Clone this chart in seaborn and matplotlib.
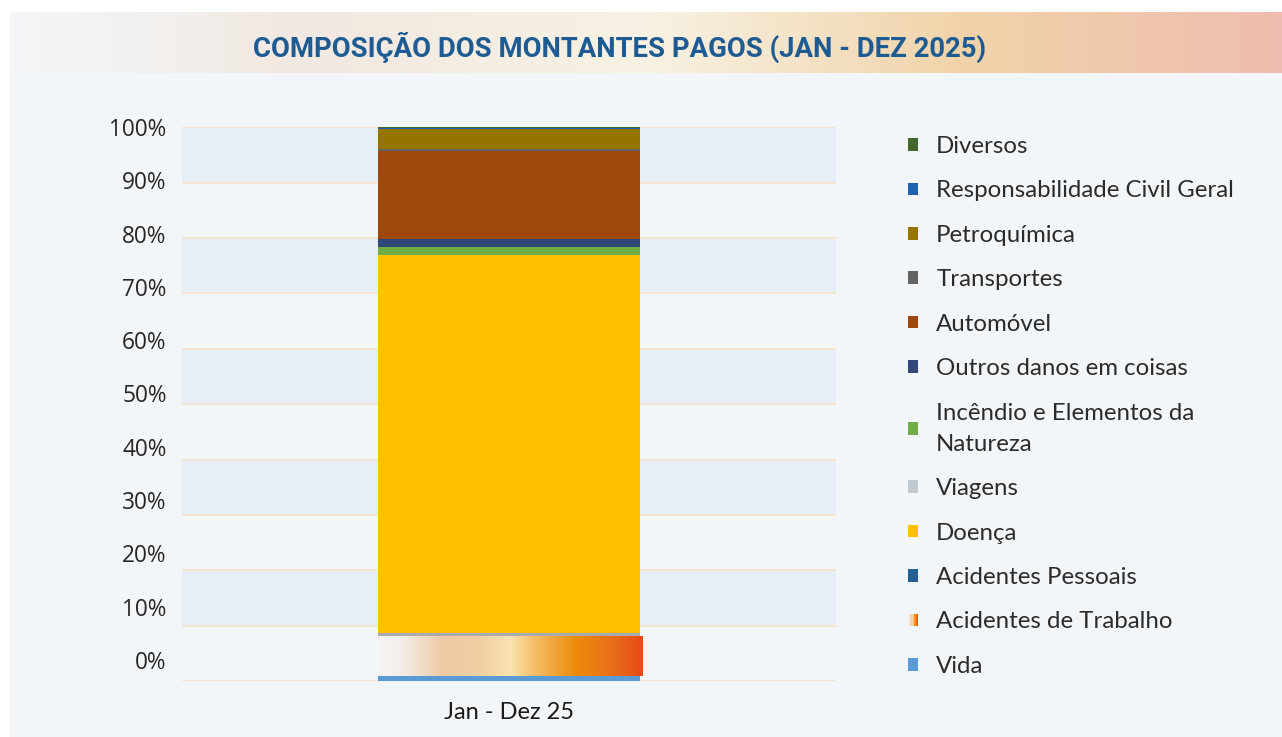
import numpy as np
import pandas as pd
import matplotlib
matplotlib.use("Agg")
import matplotlib.pyplot as plt
import seaborn as sns
from matplotlib.colors import LinearSegmentedColormap
from matplotlib.patches import Patch, Rectangle
from matplotlib.legend_handler import HandlerBase

# --- data (stack order, bottom -> top), shares in %
period = "Jan - Dez 25"
lines = ["Vida", "Acidentes de Trabalho", "Acidentes Pessoais", "Viagens", "Doença",
         "Incêndio e Elementos da Natureza", "Outros danos em coisas", "Automóvel",
         "Transportes", "Petroquímica", "Responsabilidade Civil Geral", "Diversos"]
shares = [0.9, 7.1, 0.1, 0.6, 68.15, 1.6, 1.45, 15.9, 0.25, 3.6, 0.3, 0.05]
bar_colors = ["#5b9bd5", "#ee8a10", "#255e91", "#a9abb0", "#ffc000", "#70ad47",
              "#314779", "#9e480e", "#636363", "#967400", "#1f63b0", "#43682b"]
# legend order as shown (top -> bottom)
legend_order = ["Diversos", "Responsabilidade Civil Geral", "Petroquímica", "Transportes",
                "Automóvel", "Outros danos em coisas", "Incêndio e Elementos da Natureza",
                "Viagens", "Doença", "Acidentes Pessoais", "Acidentes de Trabalho", "Vida"]
legend_colors = {"Viagens": "#c0c9cf"}
ytick_labels = [f"{v}%" for v in range(0, 101, 10)]

# gradient used for "Acidentes de Trabalho"
grad_stops = [(0.0, "#f6f4f3"), (0.08, "#f4efeb"), (0.25, "#eec9a3"), (0.38, "#f1cfa2"),
              (0.5, "#fbe3b0"), (0.6, "#f4bb62"), (0.75, "#ee8a0a"), (0.88, "#e8701a"),
              (1.0, "#e84a18")]
grad_cmap = LinearSegmentedColormap.from_list("trab", grad_stops)
header_cmap = LinearSegmentedColormap.from_list(
    "hdr", [(0.0, "#f3f5f8"), (0.1, "#f3f1ef"), (0.22, "#f1e8e1"), (0.5, "#f7f2e3"),
            (0.75, "#f1d3a9"), (1.0, "#eebdb0")])

df = pd.DataFrame({"linha": lines, "pct": shares})
df["base"] = df["pct"].cumsum() - df["pct"]

sns.set_style("white")
plt.rcParams["font.family"] = ["Open Sans", "DejaVu Sans"]

W, H = 1282, 737
fig = plt.figure(figsize=(W / 100, H / 100), dpi=100, facecolor="white")

# background panel + header band
bg = fig.add_axes([0, 0, 1, 1], zorder=-5)
bg.add_patch(Rectangle((10, 12), W - 10, H - 12, facecolor="#f3f6f9", edgecolor="none"))
bg.imshow(np.linspace(0, 1, 256)[None, :], cmap=header_cmap, aspect="auto",
          extent=[10, W, 73, 12], zorder=2)
bg.set_xlim(0, W)
bg.set_ylim(H, 0)
bg.axis("off")
bg.text(620, 47, "COMPOSIÇÃO DOS MONTANTES PAGOS (JAN - DEZ 2025)", ha="center", va="center",
        fontsize=19.8, fontweight="bold", color="#1f5b93", family=["Roboto", "DejaVu Sans"],
        zorder=3)

ax = fig.add_axes([182 / W, 1 - 681 / H, 654 / W, 554 / H])
ax.set_facecolor("none")

# alternating bands and gridlines
for lo in range(10, 100, 20):
    ax.axhspan(lo, lo + 10, color="#e8eef6", lw=0, zorder=0)
for g in range(0, 101, 10):
    ax.axhline(g, color="#f5e4cf", lw=1.4, zorder=1)

for i, row in df.iterrows():
    sns.barplot(x=[period], y=[row["pct"]], bottom=[row["base"]], color=bar_colors[i],
                width=0.4, linewidth=0, saturation=1, errorbar=None, ax=ax, zorder=3)
    if row["linha"] == "Acidentes de Trabalho":
        p = ax.containers[-1].patches[0]
        x0, y0, w, h = p.get_x(), p.get_y(), p.get_width(), p.get_height()
        im = ax.imshow(np.linspace(0, 1, 256)[None, :], cmap=grad_cmap, aspect="auto",
                       extent=[x0, x0 + w * 1.01, y0, y0 + h], zorder=4)
        im.set_clip_on(False)

ax.set_xlim(-0.5, 0.5)
ax.set_ylim(0, 100)
# tick labels sit slightly off the gridlines in the original
ax.set_yticks([3.8 + i * 9.625 for i in range(11)])
ax.set_yticklabels(ytick_labels)
ax.tick_params(axis="y", length=0, pad=11, labelsize=16.3, labelcolor="#262626")
ax.tick_params(axis="x", length=0, pad=15, labelsize=17, labelcolor="#1a1a1a")
for t in ax.get_xticklabels():
    t.set_family(["Lato", "DejaVu Sans"])
ax.set_xlabel("")
ax.set_ylabel("")
for s in ax.spines.values():
    s.set_visible(False)


class GradientHandler(HandlerBase):
    def create_artists(self, legend, orig_handle, xdescent, ydescent, width, height,
                       fontsize, trans):
        n = 8
        arts = []
        for k in range(n):
            arts.append(Rectangle((-xdescent + k * width / n, -ydescent), width / n, height,
                                  facecolor=grad_cmap(k / (n - 1)), edgecolor="none",
                                  transform=trans))
        return arts


color_of = dict(zip(lines, bar_colors))
color_of.update(legend_colors)
handles = []
hmap = {}
for name in legend_order:
    lab = "Incêndio e Elementos da\nNatureza" if name.startswith("Incêndio") else name
    hd = Patch(facecolor=color_of[name], edgecolor="none", label=lab)
    if name == "Acidentes de Trabalho":
        hmap[hd] = GradientHandler()
    handles.append(hd)

leg = fig.legend(handles=handles, loc="upper left", bbox_to_anchor=(896 / W, 1 - 124 / H),
                 frameon=False, handlelength=0.42, handleheight=0.42,
                 handletextpad=0.75, labelspacing=0.975, borderpad=0, handler_map=hmap,
                 prop={"family": ["Lato", "DejaVu Sans"], "size": 17.3})
for t in leg.get_texts():
    t.set_color("#2b2b2b")
    t.set_linespacing(1.6)

fig.savefig("out.png", dpi=100, facecolor="white")
